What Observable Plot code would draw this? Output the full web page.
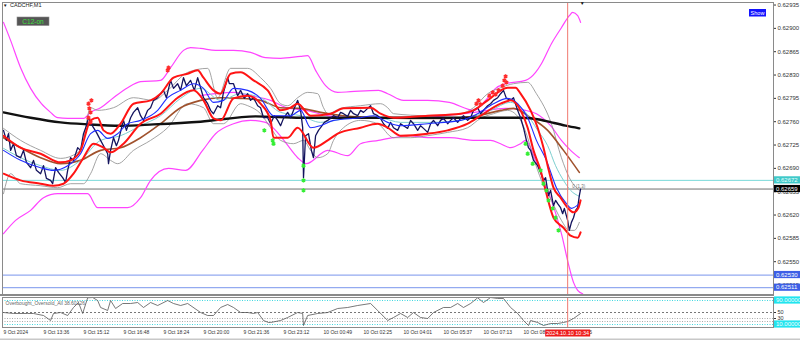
<!DOCTYPE html>
<html><head><meta charset="utf-8">
<script src="https://cdn.jsdelivr.net/npm/d3@7"></script>
<script src="https://cdn.jsdelivr.net/npm/@observablehq/plot@0.6"></script>
<style>
html,body{margin:0;padding:0;background:#fff;}
#wrap{position:relative;width:800px;height:340px;overflow:hidden;}
#wrap svg{display:block;}
</style></head><body><div id="wrap"></div>
<script>
// ---------- DATA (time = minutes after 9 Oct 2024 12:00, values = CADCHF price) ----------
const symbolLabel = "CADCHF,M1";
const oscTitle = "Overbought_Oversold_All 38.60126";
const cursorLabel = "2024.10.10 10:34";
const cursorTime = 1354;
const shiftMarkTime = 1390;
const priceTicks = [0.62935,0.62900,0.62865,0.62830,0.62795,0.62760,0.62725,0.62690,0.62655,0.62620,0.62585,0.62550,0.62515];
const timeTicks = [0,96,192,288,384,480,576,672,768,864,960,1056,1152,1248,1344];
const timeLabels = ["9 Oct 2024","9 Oct 13:36","9 Oct 15:12","9 Oct 16:48","9 Oct 18:24","9 Oct 20:00","9 Oct 21:36","9 Oct 23:12","10 Oct 00:49","10 Oct 02:25","10 Oct 04:01","10 Oct 05:37","10 Oct 07:13","10 Oct 08:49","10 Oct 10:25"];
const askLevel = 0.62672;
const bidLevel = 0.62659;
const blueLevels = [0.62530, 0.62511];
const oscLevelsCyan = [90, 10];
const oscLevelDash = [50];
const oscLevelsDot = [30, 20];

const price = [[0,.62747],[7,.62732],[12,.62742],[17,.62717],[24,.62727],[31,.62709],[41,.62706],[48,.62717],[55,.62699],[65,.62691],[72,.62702],[79,.62687],[89,.62682],[96,.62694],[103,.62675],[113,.62672],[118,.62667],[125,.62691],[132,.62684],[142,.62676],[149,.62669],[154,.62687],[161,.62706],[168,.62702],[178,.62721],[185,.62717],[192,.62742],[199,.62754],[204,.62766],[209,.62759],[216,.62751],[223,.62744],[233,.62732],[240,.62724],[250,.62712],[252,.62697],[257,.62717],[264,.62736],[271,.62724],[276,.62732],[283,.62750],[288,.62762],[295,.62747],[305,.62766],[312,.62774],[322,.62781],[329,.62769],[336,.62762],[346,.62777],[353,.62781],[360,.62792],[370,.62796],[377,.62802],[384,.62807],[391,.62796],[401,.62822],[408,.62810],[418,.62817],[425,.62807],[432,.62826],[439,.62814],[449,.62822],[458,.62807],[466,.62826],[473,.62811],[480,.62796],[490,.62787],[497,.62777],[504,.62772],[514,.62784],[521,.62781],[528,.62804],[538,.62826],[542,.62817],[552,.62817],[562,.62799],[569,.62807],[578,.62795],[586,.62802],[593,.62792],[600,.62796],[610,.62784],[617,.62781],[624,.62766],[634,.62766],[641,.62757],[650,.62769],[658,.62762],[665,.62754],[672,.62765],[682,.62774],[689,.62766],[698,.62780],[706,.62792],[713,.62777],[718,.62751],[720,.62676],[725,.62739],[732,.62742],[739,.62717],[744,.62706],[749,.62739],[756,.62747],[761,.62751],[770,.62759],[778,.62762],[785,.62765],[792,.62769],[802,.62766],[809,.62774],[816,.62772],[826,.62768],[833,.62777],[840,.62772],[850,.62769],[857,.62777],[864,.62774],[874,.62780],[881,.62784],[888,.62772],[898,.62769],[905,.62765],[912,.62757],[922,.62750],[929,.62759],[936,.62751],[946,.62747],[953,.62757],[960,.62754],[970,.62750],[977,.62762],[984,.62757],[994,.62747],[1001,.62754],[1008,.62750],[1018,.62744],[1025,.62757],[1032,.62762],[1042,.62754],[1049,.62762],[1056,.62765],[1066,.62757],[1073,.62762],[1080,.62766],[1090,.62759],[1097,.62765],[1104,.62769],[1114,.62762],[1121,.62766],[1128,.62777],[1138,.62781],[1145,.62772],[1152,.62777],[1162,.62784],[1169,.62787],[1176,.62792],[1186,.62796],[1193,.62802],[1200,.62807],[1207,.62795],[1217,.62792],[1224,.62796],[1234,.62777],[1241,.62766],[1248,.62751],[1255,.62732],[1260,.62721],[1265,.62717],[1272,.62702],[1282,.62694],[1289,.62684],[1296,.62672],[1301,.62676],[1308,.62649],[1313,.62657],[1320,.62634],[1325,.62642],[1330,.62637],[1337,.62631],[1342,.62622],[1346,.62630],[1354,.62612],[1358,.62597],[1363,.62609],[1368,.62616],[1373,.62627],[1378,.62631],[1382,.62649],[1385,.62659]];

const blackMA = [[0,.62774],[65,.62766],[137,.62759],[202,.62756],[281,.62754],[360,.62756],[473,.62760],[605,.62768],[713,.62766],[850,.62766],[1001,.62766],[1145,.62766],[1241,.62766],[1289,.62763],[1315,.62759],[1349,.62754],[1382,.62750]];

const magentaUpper = [[0,.62909],[17,.62882],[41,.62841],[65,.62810],[91,.62787],[113,.62774],[130,.62766],[154,.62765],[192,.62765],[209,.62774],[233,.62781],[264,.62796],[298,.62811],[329,.62820],[377,.62822],[401,.62841],[432,.62867],[449,.62871],[473,.62870],[509,.62867],[552,.62867],[593,.62864],[629,.62856],[665,.62855],[713,.62858],[730,.62859],[749,.62837],[773,.62814],[802,.62804],[833,.62805],[900,.62807],[922,.62802],[960,.62792],[1018,.62792],[1070,.62789],[1130,.62777],[1157,.62792],[1181,.62810],[1205,.62817],[1253,.62822],[1277,.62834],[1291,.62847],[1315,.62877],[1339,.62901],[1358,.62919],[1366,.62924],[1378,.62919],[1385,.62909]];

const magentaInner = [[473,.62799],[509,.62802],[552,.62804],[593,.62799],[641,.62792],[679,.62781],[727,.62777],[778,.62769],[826,.62766],[900,.62765],[1001,.62766],[1130,.62774],[1205,.62780],[1253,.62777],[1279,.62772],[1313,.62754],[1339,.62732],[1361,.62717],[1382,.62706]];

const magentaLower = [[0,.62592],[29,.62612],[65,.62627],[96,.62646],[130,.62652],[202,.62652],[226,.62631],[298,.62631],[329,.62646],[353,.62672],[396,.62690],[437,.62687],[478,.62717],[509,.62742],[552,.62757],[593,.62762],[629,.62759],[653,.62747],[679,.62727],[706,.62706],[727,.62697],[778,.62717],[826,.62709],[857,.62727],[900,.62732],[936,.62736],[972,.62739],[1018,.62736],[1070,.62736],[1133,.62732],[1169,.62732],[1193,.62727],[1217,.62721],[1241,.62727],[1253,.62732],[1277,.62702],[1301,.62664],[1315,.62642],[1339,.62592],[1358,.62541],[1368,.62519],[1378,.62507],[1390,.62502]];

const redUpper = [[0,.62739],[41,.62721],[89,.62712],[137,.62699],[161,.62702],[185,.62717],[209,.62762],[226,.62766],[240,.62747],[257,.62742],[281,.62757],[312,.62787],[353,.62792],[377,.62802],[408,.62826],[442,.62832],[466,.62837],[480,.62826],[504,.62807],[521,.62802],[545,.62832],[569,.62834],[600,.62822],[634,.62807],[665,.62777],[689,.62781],[706,.62787],[737,.62769],[785,.62772],[816,.62780],[881,.62781],[905,.62772],[936,.62766],[1018,.62769],[1097,.62772],[1128,.62777],[1162,.62792],[1210,.62811],[1229,.62811],[1241,.62802],[1265,.62777],[1282,.62751],[1296,.62721],[1306,.62694],[1320,.62661],[1337,.62646],[1354,.62631],[1368,.62624],[1380,.62631],[1385,.62642]];

const redLower = [[0,.62682],[41,.62672],[89,.62667],[120,.62664],[144,.62667],[168,.62682],[192,.62706],[216,.62727],[240,.62721],[257,.62714],[288,.62727],[329,.62757],[377,.62772],[418,.62796],[456,.62807],[480,.62792],[504,.62765],[521,.62762],[552,.62795],[586,.62799],[617,.62787],[641,.62762],[648,.62736],[682,.62736],[706,.62751],[744,.62721],[778,.62732],[802,.62742],[857,.62751],[898,.62757],[922,.62751],[953,.62739],[1018,.62742],[1066,.62747],[1114,.62757],[1145,.62769],[1193,.62787],[1217,.62792],[1241,.62777],[1258,.62751],[1272,.62717],[1289,.62687],[1301,.62657],[1320,.62616],[1344,.62601],[1361,.62589],[1378,.62586],[1385,.62594]];

const blueMA = [[0,.62717],[41,.62702],[89,.62691],[120,.62687],[154,.62694],[185,.62712],[209,.62742],[226,.62747],[250,.62735],[274,.62742],[298,.62757],[329,.62762],[370,.62777],[394,.62796],[425,.62807],[456,.62817],[480,.62810],[504,.62789],[528,.62792],[552,.62810],[586,.62807],[617,.62795],[648,.62769],[689,.62769],[713,.62777],[737,.62751],[761,.62754],[792,.62762],[857,.62766],[888,.62769],[922,.62759],[953,.62754],[1018,.62757],[1097,.62762],[1138,.62772],[1176,.62787],[1210,.62795],[1234,.62787],[1258,.62766],[1279,.62732],[1303,.62702],[1327,.62661],[1351,.62637],[1363,.62630],[1382,.62637]];

const cyanMA = [[0,.62720],[41,.62706],[89,.62694],[137,.62687],[185,.62702],[233,.62732],[281,.62739],[329,.62754],[377,.62769],[425,.62795],[473,.62810],[521,.62792],[569,.62802],[617,.62796],[665,.62774],[713,.62769],[761,.62759],[833,.62765],[905,.62765],[953,.62759],[1025,.62759],[1097,.62762],[1169,.62777],[1217,.62789],[1253,.62774],[1282,.62747],[1306,.62724],[1325,.62694],[1344,.62672],[1361,.62657],[1382,.62648]];

const brownMA = [[0,.62736],[41,.62721],[89,.62706],[137,.62697],[185,.62702],[233,.62717],[281,.62721],[329,.62736],[377,.62757],[425,.62781],[473,.62792],[521,.62796],[569,.62795],[617,.62792],[665,.62781],[713,.62780],[761,.62774],[816,.62769],[898,.62766],[977,.62765],[1056,.62765],[1138,.62769],[1193,.62777],[1224,.62780],[1265,.62766],[1306,.62747],[1344,.62717],[1382,.62684]];

const grayUpper = [[0,.62750],[41,.62732],[89,.62717],[137,.62705],[185,.62717],[209,.62781],[226,.62777],[264,.62781],[312,.62796],[360,.62792],[394,.62807],[442,.62834],[490,.62840],[514,.62796],[545,.62840],[586,.62840],[617,.62826],[641,.62810],[665,.62787],[682,.62784],[706,.62796],[730,.62804],[754,.62802],[768,.62781],[778,.62772],[809,.62780],[857,.62784],[905,.62787],[922,.62781],[936,.62772],[1018,.62769],[1097,.62772],[1128,.62781],[1162,.62802],[1193,.62811],[1224,.62817],[1258,.62819],[1279,.62802],[1315,.62757],[1339,.62706],[1358,.62676],[1382,.62657]];

const grayLower = [[0,.62652],[17,.62682],[41,.62667],[89,.62664],[130,.62661],[161,.62667],[192,.62667],[209,.62682],[233,.62712],[257,.62702],[274,.62697],[312,.62717],[353,.62732],[394,.62751],[442,.62787],[480,.62781],[504,.62757],[528,.62757],[569,.62787],[586,.62784],[617,.62772],[641,.62751],[665,.62732],[696,.62727],[720,.62732],[737,.62717],[754,.62706],[778,.62712],[792,.62732],[816,.62751],[857,.62762],[898,.62757],[936,.62736],[977,.62736],[1018,.62739],[1066,.62744],[1114,.62751],[1145,.62765],[1176,.62772],[1210,.62777],[1241,.62762],[1258,.62736],[1272,.62706],[1291,.62672],[1315,.62642],[1339,.62612],[1358,.62597],[1370,.62597],[1382,.62609]];

const sellSignals = [[204,.62787],[206,.62780],[209,.62774],[204,.62766],[211,.62792],[209,.62759],[394,.62837],[396,.62841],[1135,.62787],[1140,.62792],[1145,.62786],[1166,.62799],[1174,.62804],[1181,.62801],[1188,.62807],[1198,.62814],[1202,.62822],[1205,.62828],[1207,.62819]];

const buySignals = [[626,.62747],[646,.62732],[648,.62727],[720,.62694],[720,.62672],[720,.62657],[1253,.62727],[1258,.62712],[1270,.62697],[1289,.62687],[1296,.62667],[1303,.62657],[1308,.62642],[1318,.62630],[1325,.62616],[1332,.62597]];

const oscillator = [[0,50],[24,46.7],[58,46.7],[72,46.7],[96,40],[113,23.3],[120,46.7],[137,50],[154,40],[168,66.7],[180,83.3],[190,46.7],[202,99],[214,100],[226,90],[233,66.7],[250,56.7],[257,90],[269,63.3],[286,80],[305,80],[322,83.3],[336,66.7],[353,83.3],[370,73.3],[394,90],[408,80],[425,73.3],[442,80],[473,50],[490,40],[504,40],[521,66.7],[538,76.7],[552,66.7],[569,50],[586,50],[600,46.7],[610,50],[624,23.3],[636,16.7],[641,16.7],[665,23.3],[682,33.3],[706,50],[718,46.7],[720,6.7],[730,40],[754,46.7],[778,50],[802,63.3],[826,66.7],[850,73.3],[881,80],[898,56.7],[922,23.3],[936,33.3],[953,46.7],[970,33.3],[984,50],[1001,33.3],[1018,30],[1032,50],[1056,66.7],[1073,66.7],[1090,80],[1104,66.7],[1121,80],[1138,99],[1152,83.3],[1169,100],[1186,96.7],[1200,96.7],[1217,66.7],[1234,46.7],[1248,23.3],[1260,6.7],[1265,23.3],[1282,16.7],[1296,6.7],[1313,13.3],[1330,13.3],[1344,16.7],[1354,20],[1368,30],[1385,46.7]];

// ---------- CHART ----------
const X_DOMAIN = [-2.4, 1848];
const Y_DOMAIN = [0.625008, 0.629388];
const FONT = "Liberation Sans, Arial, sans-serif";
const px = d => d[0], py = d => d[1];
const wrap = document.getElementById("wrap");

const main = Plot.plot({
  width: 800, height: 296,
  marginLeft: 2, marginRight: 27, marginTop: 2, marginBottom: 2,
  x: {domain: X_DOMAIN, axis: null},
  y: {domain: Y_DOMAIN, axis: "right", ticks: priceTicks, tickFormat: d => d.toFixed(5), tickSize: 2, tickPadding: 2, label: null},
  style: {fontFamily: FONT, fontSize: "6px", background: "#fff", color: "#333", overflow: "visible"},
  marks: [
    Plot.ruleY([askLevel], {stroke: "#79d9d9", strokeWidth: 1}),
    Plot.ruleY([bidLevel], {stroke: "#707070", strokeWidth: 1}),
    Plot.ruleY(blueLevels, {stroke: "#93aaf0", strokeWidth: 1.3}),
    Plot.line(magentaUpper, {x: px, y: py, stroke: "#ff44ff", strokeWidth: 1.2, curve: "monotone-x"}),
    Plot.line(magentaInner, {x: px, y: py, stroke: "#ff44ff", strokeWidth: 1.2, curve: "monotone-x"}),
    Plot.line(magentaLower, {x: px, y: py, stroke: "#ff44ff", strokeWidth: 1.2, curve: "monotone-x"}),
    Plot.line(grayUpper, {x: px, y: py, stroke: "#8c8c8c", strokeWidth: 0.8, curve: "monotone-x"}),
    Plot.line(grayLower, {x: px, y: py, stroke: "#8c8c8c", strokeWidth: 0.8, curve: "monotone-x"}),
    Plot.line(brownMA, {x: px, y: py, stroke: "#a0522d", strokeWidth: 1.6, curve: "monotone-x"}),
    Plot.line(cyanMA, {x: px, y: py, stroke: "#7ccfcf", strokeWidth: 1, curve: "monotone-x"}),
    Plot.line(blackMA, {x: px, y: py, stroke: "#111", strokeWidth: 2.4, curve: "monotone-x"}),
    Plot.line(price, {x: px, y: py, stroke: "#14145e", strokeWidth: 1.3}),
    Plot.line(blueMA, {x: px, y: py, stroke: "#1f2dff", strokeWidth: 1.1, curve: "monotone-x"}),
    Plot.line(redUpper, {x: px, y: py, stroke: "#ff1414", strokeWidth: 2, curve: "monotone-x"}),
    Plot.line(redLower, {x: px, y: py, stroke: "#ff1414", strokeWidth: 2, curve: "monotone-x"}),
    Plot.dot(sellSignals, {x: px, y: py, r: 2, fill: "#ff2a2a", symbol: "asterisk", stroke: "#ff2a2a", strokeWidth: 1.5}),
    Plot.dot(buySignals, {x: px, y: py, r: 2, fill: "#33ee33", symbol: "asterisk", stroke: "#33ee33", strokeWidth: 1.5}),
    Plot.ruleX([cursorTime], {stroke: "#f07a70", strokeWidth: 1}),
    Plot.frame({stroke: "#8a8a8a"})
  ]
});
wrap.appendChild(main);

const xs = main.scale("x"), ys = main.scale("y");
const ms = d3.select(main);
function txt(sel, x, y, s, size, fill, anchor) {
  return sel.append("text").attr("x", x).attr("y", y).attr("dy", "0.35em")
    .attr("text-anchor", anchor || "start").attr("font-family", FONT)
    .attr("font-size", size).attr("fill", fill).text(s);
}
function tag(sel, y, s, bg, fg, x0, w) {
  const g = sel.append("g");
  g.append("rect").attr("x", x0).attr("y", y - 3.6).attr("width", w).attr("height", 7.2).attr("fill", bg);
  txt(g, x0 + 2, y, s, 6, fg, "start");
}
// price axis tags (drawn over axis labels)
tag(ms, ys.apply(askLevel), askLevel.toFixed(5), "#3fc9c9", "#e8ffff", 774, 26);
tag(ms, ys.apply(bidLevel), bidLevel.toFixed(5), "#000", "#fff", 774, 26);
blueLevels.forEach(v => tag(ms, ys.apply(v), v.toFixed(5), "#3d5fe6", "#fff", 774, 26));
// separator to oscillator
ms.append("rect").attr("x", 0).attr("y", 294).attr("width", 774).attr("height", 2).attr("fill", "#8a8a8a");
// header texts
txt(ms, 3, 5.5, "▼", 4.5, "#111", "start");
txt(ms, 10, 5.5, symbolLabel, 5.5, "#222", "start");
ms.append("rect").attr("x", 17).attr("y", 17).attr("width", 32).attr("height", 8.5).attr("fill", "#555").attr("stroke", "#8a8a8a").attr("stroke-width", 0.6);
txt(ms, 33, 21.3, "C12-on", 6.5, "#3ee03e", "middle");
ms.append("rect").attr("x", 749).attr("y", 9).attr("width", 17).attr("height", 7.5).attr("fill", "#1414ff");
txt(ms, 757.5, 12.8, "Show", 5.5, "#fff", "middle");
txt(ms, xs.apply(shiftMarkTime), 3, "▼", 5, "#111", "middle");
txt(ms, xs.apply(1366), ys.apply(0.62662), "0 (1.3)", 4.5, "#777", "start");

const osc = Plot.plot({
  width: 800, height: 44,
  marginLeft: 2, marginRight: 27, marginTop: 1, marginBottom: 13,
  x: {domain: X_DOMAIN, axis: null},
  y: {domain: [0, 100], axis: "right", ticks: [50, 30], tickSize: 2, tickPadding: 2, label: null},
  style: {fontFamily: FONT, fontSize: "5.5px", background: "#fff", color: "#333", overflow: "visible"},
  marks: [
    Plot.ruleY(oscLevelsCyan, {stroke: "#3fd8e0", strokeDasharray: "1,1.5"}),
    Plot.ruleY(oscLevelDash, {stroke: "#777", strokeDasharray: "2,2"}),
    Plot.ruleY(oscLevelsDot, {stroke: "#aaa", strokeDasharray: "1,1.5"}),
    Plot.line(oscillator, {x: px, y: py, stroke: "#555", strokeWidth: 0.8}),
    Plot.ruleX([cursorTime], {stroke: "#f07a70", strokeWidth: 1}),
    Plot.text([oscTitle], {frameAnchor: "top-left", dx: 3, dy: 4, textAnchor: "start", fill: "#666", fontSize: 5}),
    Plot.text(timeTicks, {x: d => d, text: (d, i) => timeLabels[i], frameAnchor: "bottom", dy: 6, textAnchor: "start", fontSize: 5, fill: "#333"}),
    Plot.frame({stroke: "#8a8a8a"})
  ]
});
wrap.appendChild(osc);
const os = d3.select(osc), oys = osc.scale("y"), oxs = osc.scale("x");
oscLevelsCyan.forEach(v => tag(os, oys.apply(v), v.toFixed(5), "#22e4ee", "#f4ffff", 774, 26));
const cx = oxs.apply(cursorTime);
os.append("rect").attr("x", cx - 22).attr("y", 33.5).attr("width", 45).attr("height", 7).attr("fill", "#ee1c1c");
txt(os, cx + 0.5, 37, cursorLabel, 5.5, "#fff", "middle");
os.append("rect").attr("x", 0).attr("y", 42.5).attr("width", 800).attr("height", 1.5).attr("fill", "#c8c8c8");
</script></body></html>
